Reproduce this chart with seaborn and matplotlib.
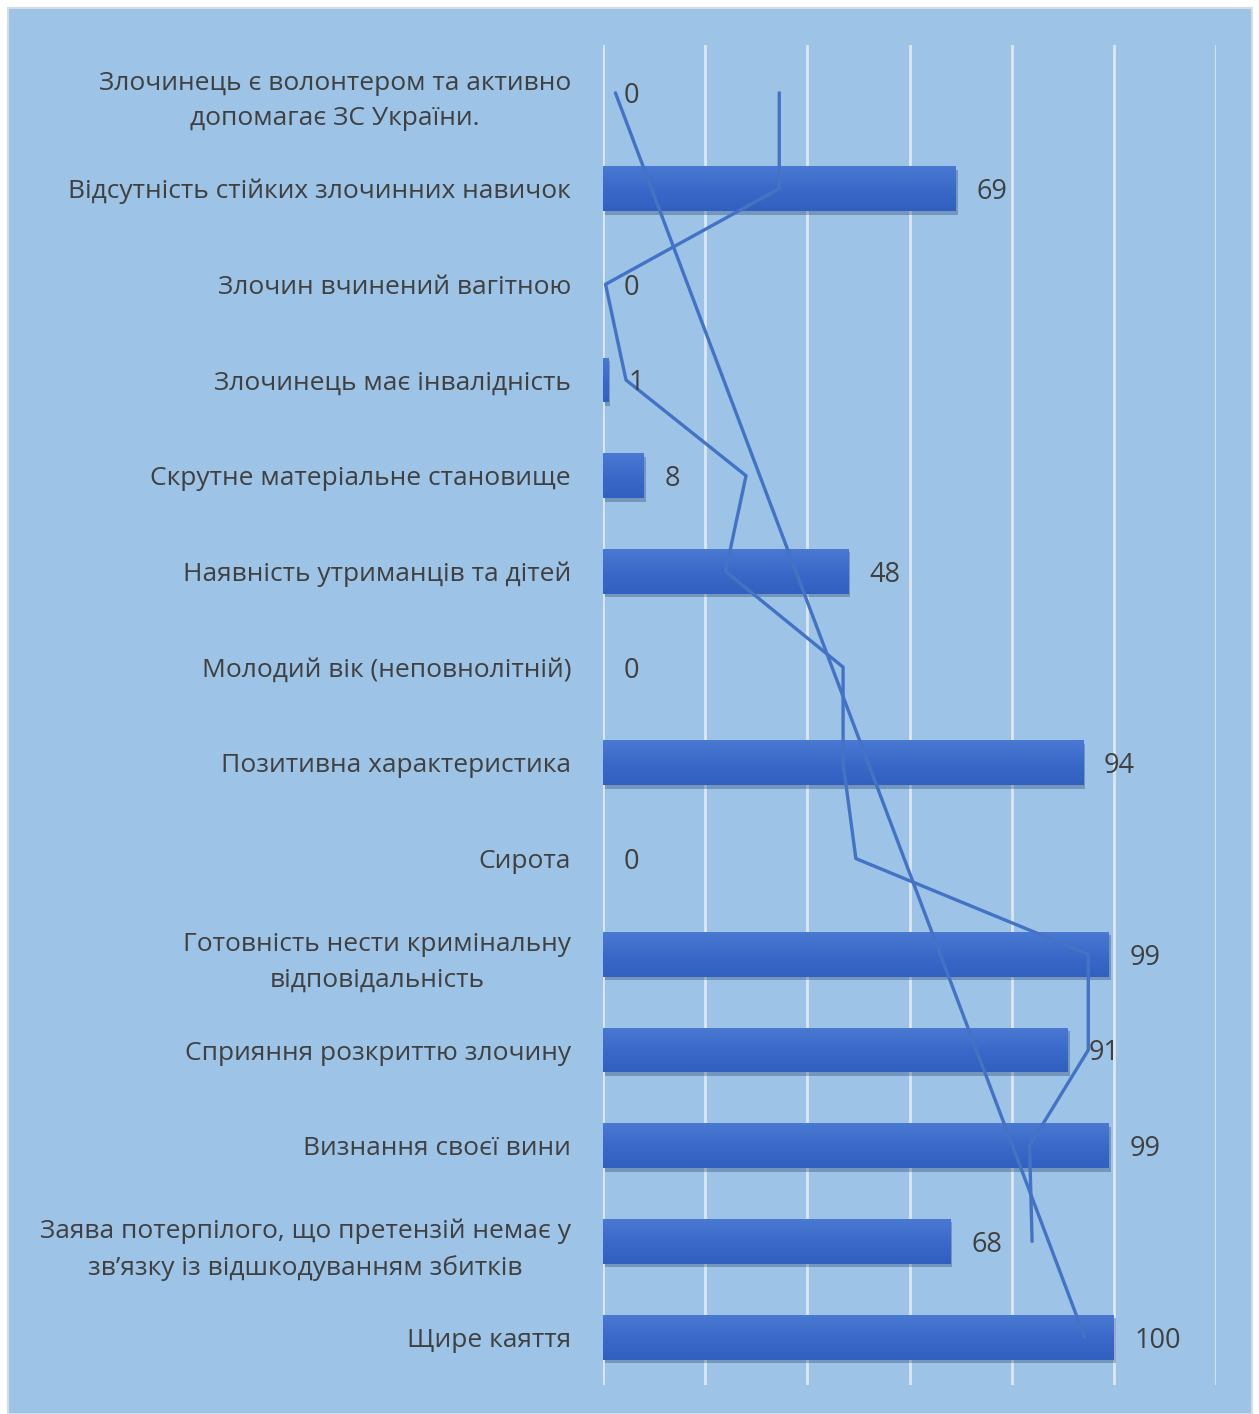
import numpy as np
import pandas as pd
import matplotlib
matplotlib.use("Agg")
import matplotlib.pyplot as plt
import matplotlib.patheffects as pe
from matplotlib.patches import Rectangle
import seaborn as sns

categories = [
    "Злочинець є волонтером та активно\nдопомагає ЗС України.",
    "Відсутність стійких злочинних навичок",
    "Злочин вчинений вагітною",
    "Злочинець має інвалідність",
    "Скрутне матеріальне становище",
    "Наявність утриманців та дітей",
    "Молодий вік (неповнолітній)",
    "Позитивна характеристика",
    "Сирота",
    "Готовність нести кримінальну\nвідповідальність",
    "Сприяння розкриттю злочину",
    "Визнання своєї вини",
    "Заява потерпілого, що претензій немає у\nзв’язку із відшкодуванням збитків",
    "Щире каяття",
]
values = [0, 69, 0, 1, 8, 48, 0, 94, 0, 99, 91, 99, 68, 100]

BG = "#9DC3E6"
BAR = "#3C6BCA"
LINE = "#4472C4"
TEXT = "#404040"
GRID = "#DCE7F2"

sns.set_theme(style="white")
plt.rcParams["font.family"] = ["Open Sans", "DejaVu Sans"]

df = pd.DataFrame({"category": categories, "value": values})

fig = plt.figure(figsize=(12.59, 14.14), dpi=100, facecolor="white")
# chart frame
fig.patches.append(Rectangle((8 / 1259, 0), 1244 / 1259, 1 - 8 / 1414,
                             transform=fig.transFigure, facecolor=BG,
                             edgecolor="#D5DCE4", linewidth=1.5, zorder=-10))

ax = fig.add_axes([603 / 1259, 1 - 1385 / 1414, (1216 - 603) / 1259, (1385 - 45) / 1414])
ax.set_zorder(1)
ax.patch.set_alpha(0)

sns.barplot(data=df, x="value", y="category", orient="h", color=BAR,
            width=0.47, saturation=1, ax=ax, zorder=3)

# gradient fill and soft shadow on each bar
grad = np.linspace(0, 1, 64).reshape(-1, 1)
cmap = matplotlib.colors.LinearSegmentedColormap.from_list(
    "bar", ["#4A79D3", "#3B69C9", "#3260C0"])
for p in list(ax.patches):
    p.set_edgecolor("none")
    p.set_path_effects([pe.SimplePatchShadow(offset=(1.5, -2.5), shadow_rgbFace="#2A4470", alpha=0.35),
                        pe.Normal()])
    x0, y0 = p.get_x(), p.get_y()
    w, h = p.get_width(), p.get_height()
    if w > 0:
        im = ax.imshow(grad, extent=(x0, x0 + w, y0 + h, y0), cmap=cmap,
                       aspect="auto", zorder=3.5, interpolation="bicubic")
        im.set_clip_path(p)

pos = np.arange(len(values))
vals = np.array(values, dtype=float)

# two-period moving average
ma = (vals[:-1] + vals[1:]) / 2
ax.plot(ma, pos[:-1], color=LINE, lw=2.4, zorder=5)

# linear trend
k, b = np.polyfit(pos, vals, 1)
ax.plot(k * pos + b, pos, color=LINE, lw=2.4, zorder=5)

for i, v in enumerate(values):
    ax.annotate(f"{v}", xy=(v, i), xytext=(15, 0), textcoords="offset points",
                va="center_baseline", ha="left", fontsize=19.5, color=TEXT, zorder=6)

ax.set_xlim(0, 120)
ax.set_ylim(len(values) - 0.5, -0.5)
ax.set_xticks(np.arange(0, 121, 20))
ax.set_xticklabels([])
ax.tick_params(axis="x", length=0)
ax.tick_params(axis="y", length=0, pad=23, labelsize=19, labelcolor=TEXT)
for lab in ax.get_yticklabels():
    lab.set_multialignment("center")
    lab.set_linespacing(1.55)
ax.grid(axis="x", color=GRID, lw=2, zorder=1)
ax.set_axisbelow(True)
ax.set_xlabel("")
ax.set_ylabel("")
for s in ax.spines.values():
    s.set_visible(False)

fig.savefig("out.png", dpi=100, facecolor="white")
